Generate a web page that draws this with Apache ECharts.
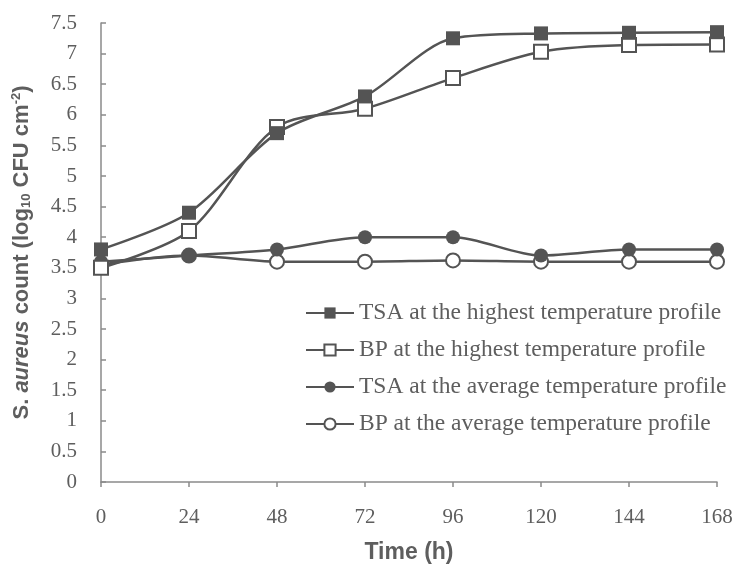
<!DOCTYPE html>
<html>
<head>
<meta charset="utf-8">
<script src="https://cdn.jsdelivr.net/npm/echarts@6/dist/echarts.min.js"></script>
<style>
html,body{margin:0;padding:0;background:#fff;}
#main{width:738px;height:570px;}
</style>
</head>
<body>
<div id="main"></div>
<script>
const timeHours = [0, 24, 48, 72, 96, 120, 144, 168];
const xTicks = [0, 24, 48, 72, 96, 120, 144, 168];
const yTicks = [0, 0.5, 1, 1.5, 2, 2.5, 3, 3.5, 4, 4.5, 5, 5.5, 6, 6.5, 7, 7.5];
const seriesNames = [
  'TSA at the highest temperature profile',
  'BP at the highest temperature profile',
  'TSA at the average temperature profile',
  'BP at the average temperature profile'
];
const tsaHighest = [3.8, 4.4, 5.7, 6.3, 7.25, 7.33, 7.34, 7.35];
const bpHighest = [3.5, 4.1, 5.8, 6.1, 6.6, 7.03, 7.14, 7.15];
const tsaAverage = [3.6, 3.7, 3.8, 4.0, 4.0, 3.7, 3.8, 3.8];
const bpAverage = [3.55, 3.7, 3.6, 3.6, 3.62, 3.6, 3.6, 3.6];

const lineColor = '#545454';
const textColor = '#5e5e5e';
const serif = '"Liberation Serif", "Times New Roman", serif';
const sans = '"Liberation Sans", Arial, sans-serif';

function pairs(vals) { return timeHours.map((t, i) => [t, vals[i]]); }

function mk(name, vals, symbol, filled, z) {
  return {
    name: name,
    type: 'line',
    data: pairs(vals),
    smooth: 0.3,
    symbol: symbol,
    symbolSize: 14,
    z: z,
    lineStyle: { color: lineColor, width: 2.5 },
    itemStyle: {
      color: filled ? lineColor : '#ffffff',
      borderColor: lineColor,
      borderWidth: filled ? 0 : 2
    },
    emphasis: { disabled: true }
  };
}

const chart = echarts.init(document.getElementById('main'), null, { renderer: 'canvas' });
chart.setOption({
  animation: false,
  backgroundColor: '#ffffff',
  grid: { left: 97, right: 21, top: 23, bottom: 88, containLabel: false },
  legend: {
    orient: 'vertical',
    left: 305,
    top: 301,
    padding: 0,
    itemWidth: 48,
    itemHeight: 14,
    itemGap: 13,
    data: seriesNames,
    textStyle: { fontFamily: serif, fontSize: 23.5, color: textColor }
  },
  xAxis: {
    type: 'value',
    min: xTicks[0],
    max: xTicks[xTicks.length - 1],
    interval: 24,
    name: 'Time (h)',
    nameLocation: 'middle',
    nameGap: 59,
    nameTextStyle: { fontFamily: sans, fontWeight: 'bold', fontSize: 23, color: textColor },
    axisLine: { lineStyle: { color: '#8a8a8a', width: 1.5 } },
    axisTick: { show: true, inside: false, length: 5, lineStyle: { color: '#8a8a8a', width: 1.5 } },
    axisLabel: { margin: 25, fontFamily: serif, fontSize: 21, color: textColor },
    splitLine: { show: false }
  },
  yAxis: {
    type: 'value',
    min: yTicks[0],
    max: yTicks[yTicks.length - 1],
    interval: 0.5,
    name: '{b|S. }{i|aureus}{b| count (log}{sub|10}{b| CFU cm}{sup|-2}{b|)}',
    nameLocation: 'middle',
    nameGap: 66,
    nameRotate: 90,
    nameTextStyle: {
      fontFamily: sans, fontWeight: 'bold', fontSize: 22, color: textColor,
      rich: {
        b: { fontFamily: sans, fontWeight: 'bold', fontSize: 22, color: textColor, lineHeight: 27, verticalAlign: 'middle' },
        i: { fontFamily: sans, fontWeight: 'bold', fontStyle: 'italic', fontSize: 22, color: textColor, lineHeight: 27, verticalAlign: 'middle' },
        sub: { fontFamily: sans, fontWeight: 'bold', fontSize: 13, color: textColor, lineHeight: 14, verticalAlign: 'bottom', padding: [0, 0, 2, 0] },
        sup: { fontFamily: sans, fontWeight: 'bold', fontSize: 13, color: textColor, lineHeight: 14, verticalAlign: 'top', padding: [2, 0, 0, 0] }
      }
    },
    axisLine: { show: true, lineStyle: { color: '#8a8a8a', width: 1.5 } },
    axisTick: { show: true, inside: true, length: 5, lineStyle: { color: '#8a8a8a', width: 1.5 } },
    axisLabel: { margin: 24, fontFamily: serif, fontSize: 21, color: textColor },
    splitLine: { show: false }
  },
  series: [
    mk(seriesNames[0], tsaHighest, 'rect', true, 5),
    mk(seriesNames[1], bpHighest, 'rect', false, 4),
    mk(seriesNames[2], tsaAverage, 'circle', true, 3),
    mk(seriesNames[3], bpAverage, 'circle', false, 2)
  ]
});
</script>
</body>
</html>
